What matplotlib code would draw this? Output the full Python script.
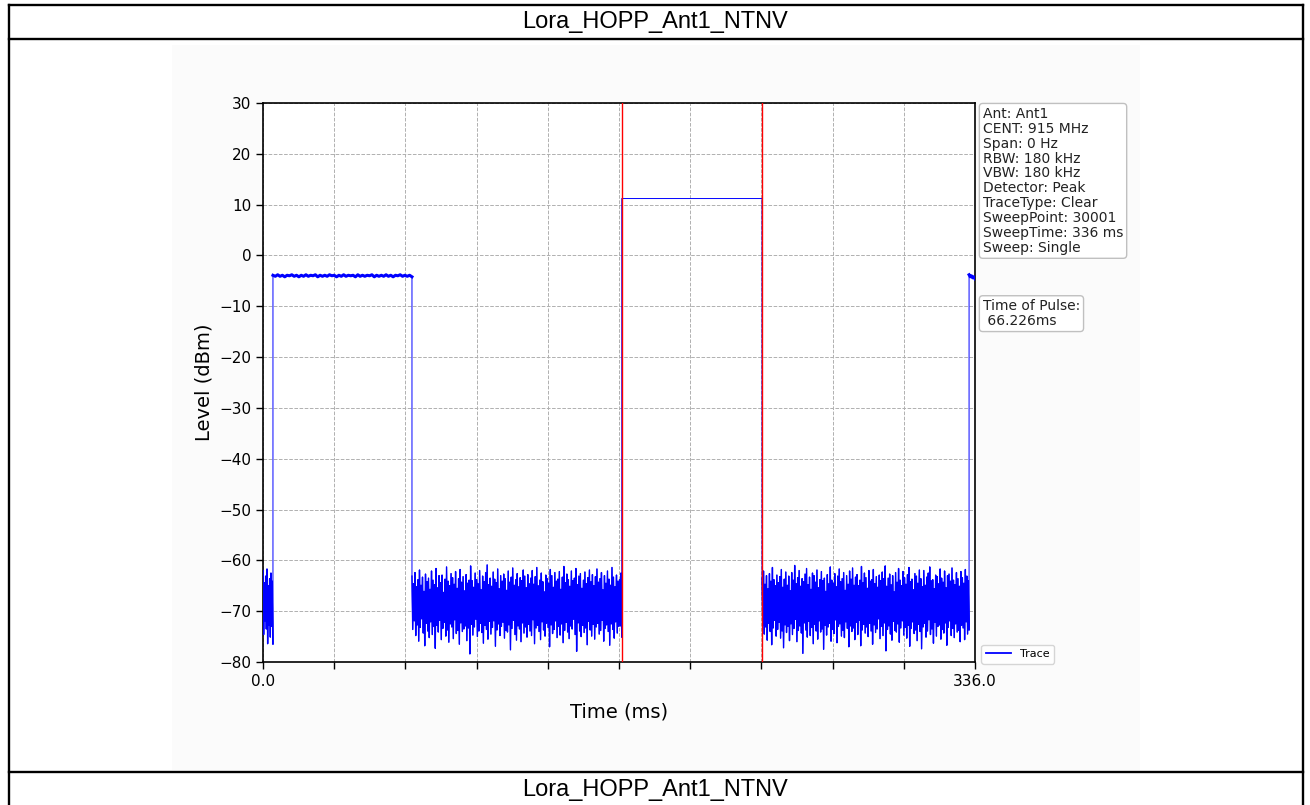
import numpy as np
import matplotlib
matplotlib.use("Agg")
import matplotlib.pyplot as plt
from matplotlib.lines import Line2D
from matplotlib.patches import Rectangle
from matplotlib.ticker import FixedLocator, FixedFormatter

# ---------------- data ----------------
title = "Lora_HOPP_Ant1_NTNV"
sweep_time = 336.0
# segment edges (ms): noiseA | pulse1 | noiseB | pulse2 | noiseC | pulse3
seg_edges = [0.0, 4.7, 70.3, 169.3, 235.5, 333.2, 336.0]
marker1 = 169.3
pulse_width = 66.226

noise_a_up = [-62.0, -64.4, -63.1, -61.7, -65.0, -63.6, -62.5, -64.1]
noise_a_lo = [-74.6, -71.9, -73.5, -76.4, -72.8, -75.1, -73.0, -76.5]

pulse1_vals = [-3.9, -4.1, -3.8, -4.1, -3.9, -4.2, -3.9, -4.0, -3.8, -4.1,
               -3.9, -4.2, -3.9, -4.1, -3.8, -4.1, -3.9, -4.0, -3.8, -4.2,
               -3.9, -4.1, -3.9, -4.1, -3.8, -4.0, -3.9, -4.2, -3.9, -4.1,
               -3.8, -4.1, -3.9, -4.0, -3.9, -4.2, -3.8, -4.1, -3.9, -4.1,
               -3.9, -4.0, -3.8, -4.2, -3.9, -4.1, -3.9, -4.1, -3.8, -4.1,
               -3.9, -4.2, -3.9, -4.0, -3.8, -4.1, -3.9, -4.1, -3.9, -4.2]

noise_b_up = [-63.1, -64.6, -62.4, -65.2, -63.8, -61.9, -64.9, -63.3, -66.1, -62.7,
              -64.2, -63.5, -65.7, -62.1, -63.9, -64.8, -61.6, -65.4, -63.0, -64.4,
              -62.9, -66.3, -63.7, -61.3, -64.1, -65.0, -62.6, -63.4, -64.7, -62.2,
              -65.5, -63.6, -61.8, -64.3, -63.2, -66.0, -62.8, -64.5, -63.9, -61.1,
              -64.0, -65.3, -62.5, -63.8, -64.6, -62.0, -65.8, -63.1, -64.2, -62.4,
              -60.9, -64.8, -63.5, -65.1, -62.3, -63.7, -64.4, -61.7, -65.6, -63.0,
              -64.1, -62.7, -63.6, -65.9, -62.1, -64.3, -63.3, -61.5, -64.9, -63.8,
              -62.6, -65.2, -63.4, -64.0, -61.9, -63.1, -65.4, -62.8, -64.6, -63.5,
              -62.0, -64.7, -63.2, -61.4, -65.0, -63.9, -62.5, -64.2, -66.2, -62.9,
              -63.6, -64.5, -61.8, -63.0, -65.3, -62.4, -64.1, -63.7, -62.2, -65.7,
              -63.3, -61.2, -64.4, -62.7, -63.8, -65.1, -62.1, -64.0, -63.5, -61.6,
              -64.8, -63.1, -62.6, -65.5, -63.9, -62.3, -64.6, -63.4, -61.9, -64.2,
              -62.8, -65.0, -63.2, -61.7, -64.3, -63.6, -62.4, -65.8, -63.0, -64.5,
              -62.1, -63.7, -64.9, -61.4, -63.3, -65.2, -62.9, -64.1, -63.8, -62.5]
noise_b_lo = [-73.6, -71.9, -74.8, -72.7, -75.9, -73.2, -71.5, -74.3, -76.8, -72.4,
              -73.9, -75.2, -72.1, -74.6, -73.0, -77.3, -72.8, -74.1, -71.8, -75.6,
              -73.4, -72.2, -74.9, -73.7, -76.1, -72.5, -73.1, -75.4, -71.7, -74.4,
              -73.8, -76.5, -72.3, -74.0, -73.5, -72.9, -75.8, -73.3, -78.4, -72.6,
              -74.7, -73.1, -71.6, -75.0, -73.9, -72.4, -74.2, -76.3, -72.8, -73.6,
              -75.5, -72.0, -74.5, -73.2, -71.9, -76.9, -73.7, -72.5, -74.8, -73.0,
              -72.2, -75.3, -73.8, -74.1, -72.7, -77.6, -73.4, -71.8, -74.6, -75.7,
              -72.9, -73.5, -76.0, -72.3, -74.3, -73.1, -75.1, -72.6, -73.9, -74.8,
              -71.7, -76.4, -73.3, -72.8, -74.0, -75.6, -72.1, -73.7, -74.9, -72.4,
              -73.2, -77.0, -72.7, -74.4, -73.6, -71.9, -75.2, -73.0, -74.7, -72.5,
              -76.2, -73.8, -72.2, -74.1, -75.4, -72.9, -73.5, -71.6, -74.6, -77.9,
              -72.3, -73.9, -75.0, -72.8, -74.2, -73.3, -76.6, -72.0, -73.7, -74.9,
              -72.6, -75.5, -73.1, -72.4, -74.5, -73.8, -71.8, -75.9, -73.4, -72.7,
              -74.0, -76.7, -72.5, -73.6, -75.3, -72.1, -74.3, -73.0, -72.9, -75.1]

pulse2_vals = [11.2, 11.2]

noise_c_up = [-63.5, -62.1, -64.7, -63.0, -65.6, -62.6, -64.1, -61.4, -63.8, -65.0,
              -62.9, -64.4, -63.2, -61.8, -65.3, -63.7, -62.3, -64.9, -63.1, -66.0,
              -62.4, -63.9, -61.0, -64.6, -63.4, -62.0, -65.1, -63.6, -64.2, -62.7,
              -61.6, -64.8, -63.3, -65.7, -62.5, -63.0, -64.3, -61.9, -65.4, -63.8,
              -62.2, -64.0, -63.5, -66.1, -62.8, -64.6, -61.3, -63.9, -64.5, -62.6,
              -65.2, -63.1, -61.7, -64.2, -63.6, -62.4, -65.9, -63.0, -64.7, -62.1,
              -63.7, -61.5, -64.9, -63.3, -62.8, -65.0, -63.9, -61.2, -64.4, -62.5,
              -63.4, -65.5, -62.0, -64.1, -63.8, -61.8, -64.6, -63.2, -65.3, -62.9,
              -64.0, -62.3, -63.6, -61.1, -65.1, -63.5, -62.7, -64.8, -63.0, -66.2,
              -62.4, -64.3, -61.6, -63.9, -65.0, -62.2, -63.4, -64.7, -62.8, -61.4,
              -64.2, -63.7, -65.8, -62.6, -63.1, -64.5, -61.9, -63.6, -65.2, -62.0,
              -64.9, -63.3, -62.5, -61.3, -64.0, -63.8, -65.6, -62.9, -63.2, -64.6,
              -61.7, -63.5, -64.3, -62.1, -65.4, -63.0, -62.7, -64.1, -61.5, -63.9,
              -64.8, -62.4, -63.6, -65.1, -62.2, -63.4, -64.5, -61.8, -63.1, -64.0]
noise_c_lo = [-72.8, -74.5, -73.1, -75.7, -72.4, -74.0, -76.6, -73.3, -71.8, -74.9,
              -73.6, -72.2, -75.3, -73.9, -77.2, -72.7, -74.2, -73.0, -75.8, -72.5,
              -74.6, -73.4, -71.6, -76.0, -73.8, -72.9, -74.3, -78.3, -72.3, -73.7,
              -75.1, -72.0, -74.8, -73.2, -76.4, -72.6, -73.9, -75.5, -71.9, -74.1,
              -73.5, -77.5, -72.8, -74.7, -73.1, -72.4, -75.9, -73.6, -74.4, -71.7,
              -76.2, -73.0, -72.5, -74.9, -73.8, -75.2, -72.1, -73.4, -77.0, -72.9,
              -74.0, -73.3, -75.6, -72.2, -74.6, -71.8, -76.8, -73.7, -72.6, -74.3,
              -73.1, -75.0, -72.4, -73.9, -76.5, -72.7, -74.2, -73.5, -71.5, -75.4,
              -73.0, -74.8, -72.3, -77.8, -73.6, -72.9, -74.5, -75.7, -72.0, -73.8,
              -74.1, -72.5, -76.1, -73.3, -71.9, -74.7, -73.2, -75.3, -72.8, -76.9,
              -73.4, -72.1, -74.4, -73.7, -75.8, -72.6, -74.0, -77.4, -73.1, -72.4,
              -75.1, -73.9, -71.7, -74.6, -73.5, -76.3, -72.2, -74.9, -73.0, -72.7,
              -75.5, -73.6, -74.3, -72.3, -76.7, -73.2, -71.9, -74.8, -73.4, -75.2,
              -72.5, -74.1, -73.8, -76.0, -72.8, -73.3, -75.6, -72.1, -74.5, -73.7]

pulse3_vals = [-3.8, -4.2, -4.0, -4.4, -4.2, -4.6]

y_ticks = [-80, -70, -60, -50, -40, -30, -20, -10, 0, 10, 20, 30]
x_tick_count = 11
x_tick_labels = ["0.0", "", "", "", "", "", "", "", "", "", "336.0"]

info_lines = ["Ant: Ant1", "CENT: 915 MHz", "Span: 0 Hz", "RBW: 180 kHz",
              "VBW: 180 kHz", "Detector: Peak", "TraceType: Clear",
              "SweepPoint: 30001", "SweepTime: 336 ms", "Sweep: Single"]
pulse_text = "Time of Pulse:\n 66.226ms"


def interleave(up, lo):
    return list(np.ravel(np.column_stack([up, lo])))


segment_values = [interleave(noise_a_up, noise_a_lo), pulse1_vals,
                  interleave(noise_b_up, noise_b_lo), pulse2_vals,
                  interleave(noise_c_up, noise_c_lo), pulse3_vals]
# segments drawn with 30001-point density (thick look)
dense_segments = [0, 2, 4]
plateau_segments = [1, 5]

seg_t = [list(np.linspace(seg_edges[i], seg_edges[i + 1], len(v)))
         for i, v in enumerate(segment_values)]
t_all = [t for part in seg_t for t in part]
v_all = [v for part in segment_values for v in part]

# ---------------- figure ----------------
W, H = 1310, 805
fig = plt.figure(figsize=(W / 100, H / 100), dpi=100)
fig.patch.set_facecolor("white")


def fx(px):
    return px / W


def fy(py):
    return 1 - py / H


# faint background of embedded plot image
fig.add_artist(Rectangle((fx(172), fy(770)), fx(1140) - fx(172), fy(45) - fy(770),
                         transform=fig.transFigure, facecolor="#fbfbfb",
                         edgecolor="none", zorder=0))

# table frame
lw_frame = 1.7
for (x0, y0, x1, y1) in [(9, 5, 1303, 5), (9, 39, 1303, 39), (9, 772, 1303, 772),
                         (9, 5, 9, 805), (1303, 5, 1303, 805)]:
    fig.add_artist(Line2D([fx(x0), fx(x1)], [fy(y0), fy(y1)], color="black",
                          lw=lw_frame, transform=fig.transFigure,
                          solid_capstyle="projecting"))

for ty in (22, 790):
    fig.text(0.5, fy(ty), title, ha="center", va="center", fontsize=17,
             family="Liberation Sans")

ax = fig.add_axes([fx(263), fy(662), fx(975) - fx(263), fy(103) - fy(662)])
ax.set_facecolor("white")

trace_line, = ax.plot(t_all, v_all, color="blue", lw=0.7, label="Trace", zorder=3)
for i in dense_segments:
    ax.plot(seg_t[i], segment_values[i], color="blue", lw=1.0, zorder=3)
for i in plateau_segments:
    ax.plot(seg_t[i], segment_values[i], color="blue", lw=2.2, zorder=3)
ax.axvline(marker1, color="red", lw=1.0, zorder=4)
ax.axvline(marker1 + pulse_width, color="red", lw=1.0, zorder=4)

ax.set_xlim(0, sweep_time)
ax.set_ylim(-80, 30)
x_ticks = np.linspace(0, sweep_time, x_tick_count)
ax.xaxis.set_major_locator(FixedLocator(x_ticks))
ax.xaxis.set_major_formatter(FixedFormatter(x_tick_labels))
ax.set_yticks(y_ticks)
ax.tick_params(labelsize=11, length=5, width=1)
ax.grid(True, linestyle="--", color="#b0b0b0", lw=0.7)
for s in ax.spines.values():
    s.set_linewidth(1.2)

ax.set_xlabel("Time (ms)", fontsize=14, labelpad=10)
ax.set_ylabel("Level (dBm)", fontsize=14)

bbox = dict(boxstyle="round,pad=0.25", facecolor="white", edgecolor="#c0c0c0", lw=1)
ax.text(1.011, 0.993, "\n".join(info_lines), transform=ax.transAxes, va="top",
        ha="left", fontsize=10, linespacing=1.08, bbox=bbox, color="#222222")
ax.text(1.011, 0.649, pulse_text, transform=ax.transAxes, va="top",
        ha="left", fontsize=10, linespacing=1.08, bbox=bbox, color="#222222")

leg = ax.legend(handles=[trace_line], loc="lower left", bbox_to_anchor=(1.009, -0.003),
                fontsize=8, frameon=True, borderaxespad=0.0, handlelength=2.3)
for h in leg.get_lines():
    h.set_linewidth(1.3)

fig.savefig("out.png", dpi=100, facecolor="white")
